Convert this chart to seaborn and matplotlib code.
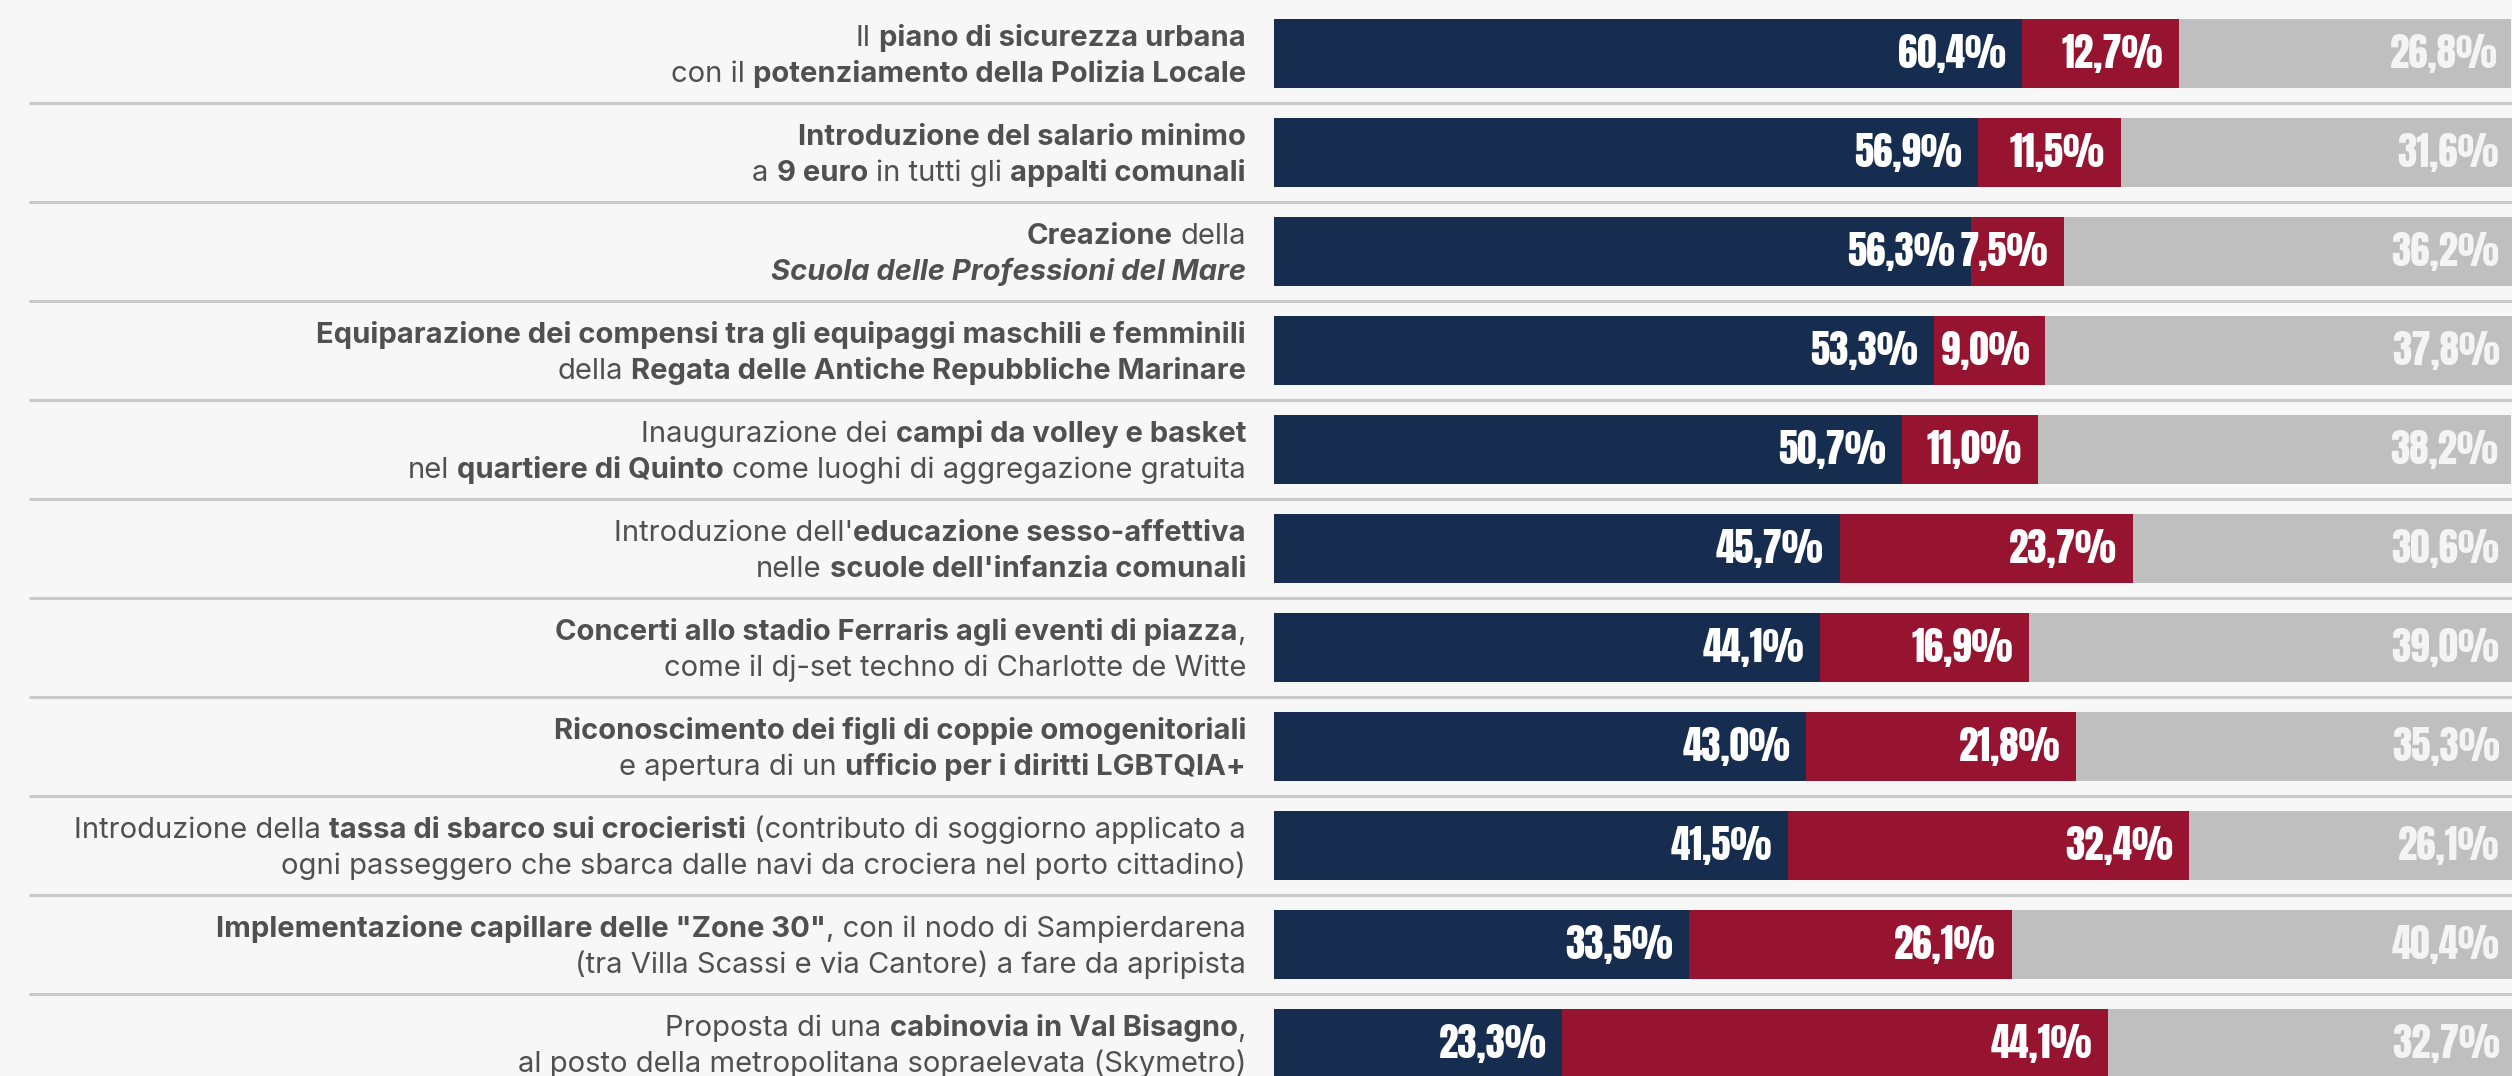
import re
import seaborn as sns
import matplotlib
import matplotlib.pyplot as plt
import pandas as pd

sns.set_style("white")

# rows top to bottom; ** = bold, __ = italic
label_line1 = [
    "Il **piano di sicurezza urbana**",
    "**Introduzione del salario minimo**",
    "**Creazione** della",
    "**Equiparazione dei compensi tra gli equipaggi maschili e femminili**",
    "Inaugurazione dei **campi da volley e basket**",
    "Introduzione dell'**educazione sesso-affettiva**",
    "**Concerti allo stadio Ferraris agli eventi di piazza**,",
    "**Riconoscimento dei figli di coppie omogenitoriali**",
    "Introduzione della **tassa di sbarco sui crocieristi** (contributo di soggiorno applicato a",
    "**Implementazione capillare delle \"Zone 30\"**, con il nodo di Sampierdarena",
    "Proposta di una **cabinovia in Val Bisagno**,",
]
label_line2 = [
    "con il **potenziamento della Polizia Locale**",
    "a **9 euro** in tutti gli **appalti comunali**",
    "__**Scuola delle Professioni del Mare**__",
    "della **Regata delle Antiche Repubbliche Marinare**",
    "nel **quartiere di Quinto** come luoghi di aggregazione gratuita",
    "nelle **scuole dell'infanzia comunali**",
    "come il dj-set techno di Charlotte de Witte",
    "e apertura di un **ufficio per i diritti LGBTQIA+**",
    "ogni passeggero che sbarca dalle navi da crociera nel porto cittadino)",
    "(tra Villa Scassi e via Cantore) a fare da apripista",
    "al posto della metropolitana sopraelevata (Skymetro)",
]
favorevoli = [60.4, 56.9, 56.3, 53.3, 50.7, 45.7, 44.1, 43.0, 41.5, 33.5, 23.3]
contrari = [12.7, 11.5, 7.5, 9.0, 11.0, 23.7, 16.9, 21.8, 32.4, 26.1, 44.1]
non_sa = [26.8, 31.6, 36.2, 37.8, 38.2, 30.6, 39.0, 35.3, 26.1, 40.4, 32.7]

NAVY = "#172d4f"
RED = "#961430"
GRAY = "#bfbfbf"
BG = "#f7f7f7"
TXT = "#505050"

W, H = 2512, 1076
BAR_X0 = 1274
LABEL_X = 1246
ROW_PX = 99.0
FIRST_CENTER = 53.5
BAR_H = 69 / ROW_PX

value_font = ["Anton", "DejaVu Sans"]
label_font = ["Inter", "DejaVu Sans"]
VALUE_SIZE = 28
LABEL_SIZE = 21

cats = [re.sub(r"\*\*|__", "", a) for a in label_line1]
df = pd.DataFrame({"cat": cats, "fav": favorevoli, "con": contrari, "ns": non_sa})
df["fav_con"] = df["fav"] + df["con"]
df["tot"] = df["fav_con"] + df["ns"]

fig = plt.figure(figsize=(W / 100, H / 100), dpi=100, facecolor=BG)
y_top = -FIRST_CENTER / ROW_PX
y_bot = (H - FIRST_CENTER) / ROW_PX

# background axes in pixel units for labels and separators
ax_bg = fig.add_axes([0, 0, 1, 1])
ax_bg.set_xlim(0, W)
ax_bg.set_ylim(y_bot, y_top)
ax_bg.axis("off")
ax_bg.hlines([i + 0.5 for i in range(len(cats) - 1)], 29, W, color="#c9c9c9", linewidth=2.2)

ax = fig.add_axes([BAR_X0 / W, 0, (W - BAR_X0) / W, 1])
ax.patch.set_alpha(0)
sns.barplot(data=df, x="tot", y="cat", order=cats, orient="h", color=GRAY, saturation=1,
            width=BAR_H, linewidth=0, errorbar=None, ax=ax)
sns.barplot(data=df, x="fav_con", y="cat", order=cats, orient="h", color=RED, saturation=1,
            width=BAR_H, linewidth=0, errorbar=None, ax=ax)
sns.barplot(data=df, x="fav", y="cat", order=cats, orient="h", color=NAVY, saturation=1,
            width=BAR_H, linewidth=0, errorbar=None, ax=ax)
ax.set_xlim(0, 100)
ax.set_ylim(y_bot, y_top)
ax.axis("off")

def pct(v):
    return f"{v:.1f}".replace(".", ",") + "%"

pad = 1.3
for i, row in df.iterrows():
    yb = i + 14.5 / ROW_PX
    ax.text(row["fav"] - pad, yb, pct(row["fav"]), ha="right", va="baseline", color="white",
            fontsize=VALUE_SIZE, family=value_font)
    ax.text(row["fav_con"] - pad, yb, pct(row["con"]), ha="right", va="baseline", color="white",
            fontsize=VALUE_SIZE, family=value_font)
    ax.text(row["tot"] - pad * 0.8, yb, pct(row["ns"]), ha="right", va="baseline", color="#f4f4f4",
            fontsize=VALUE_SIZE, family=value_font)

renderer = fig.canvas.get_renderer()

def text_width(t):
    return t.get_window_extent(renderer).width

probe1 = ax_bg.text(0, 0, "n n", fontsize=LABEL_SIZE, family=label_font)
probe2 = ax_bg.text(0, 0, "nn", fontsize=LABEL_SIZE, family=label_font)
SPACE = text_width(probe1) - text_width(probe2)
probe1.remove()
probe2.remove()

def parse(markup):
    segs = []
    bold = italic = False
    for tok in re.split(r"(\*\*|__)", markup):
        if tok == "**":
            bold = not bold
        elif tok == "__":
            italic = not italic
        elif tok:
            segs.append((tok, bold, italic))
    return segs

def draw_rich(markup, y):
    x = LABEL_X
    for seg, bold, italic in reversed(parse(markup)):
        if seg.endswith(" "):
            x -= SPACE
        s = seg.strip()
        if s:
            t = ax_bg.text(x, y, s, ha="right", va="baseline", color=TXT, fontsize=LABEL_SIZE,
                           family=label_font, fontweight="bold" if bold else "normal",
                           fontstyle="italic" if italic else "normal")
            x -= text_width(t)
        if seg.startswith(" "):
            x -= SPACE

for i in range(len(cats)):
    draw_rich(label_line1[i], i - 7.0 / ROW_PX)
    draw_rich(label_line2[i], i + 28.5 / ROW_PX)

fig.savefig("out.png", dpi=100, facecolor=BG)
